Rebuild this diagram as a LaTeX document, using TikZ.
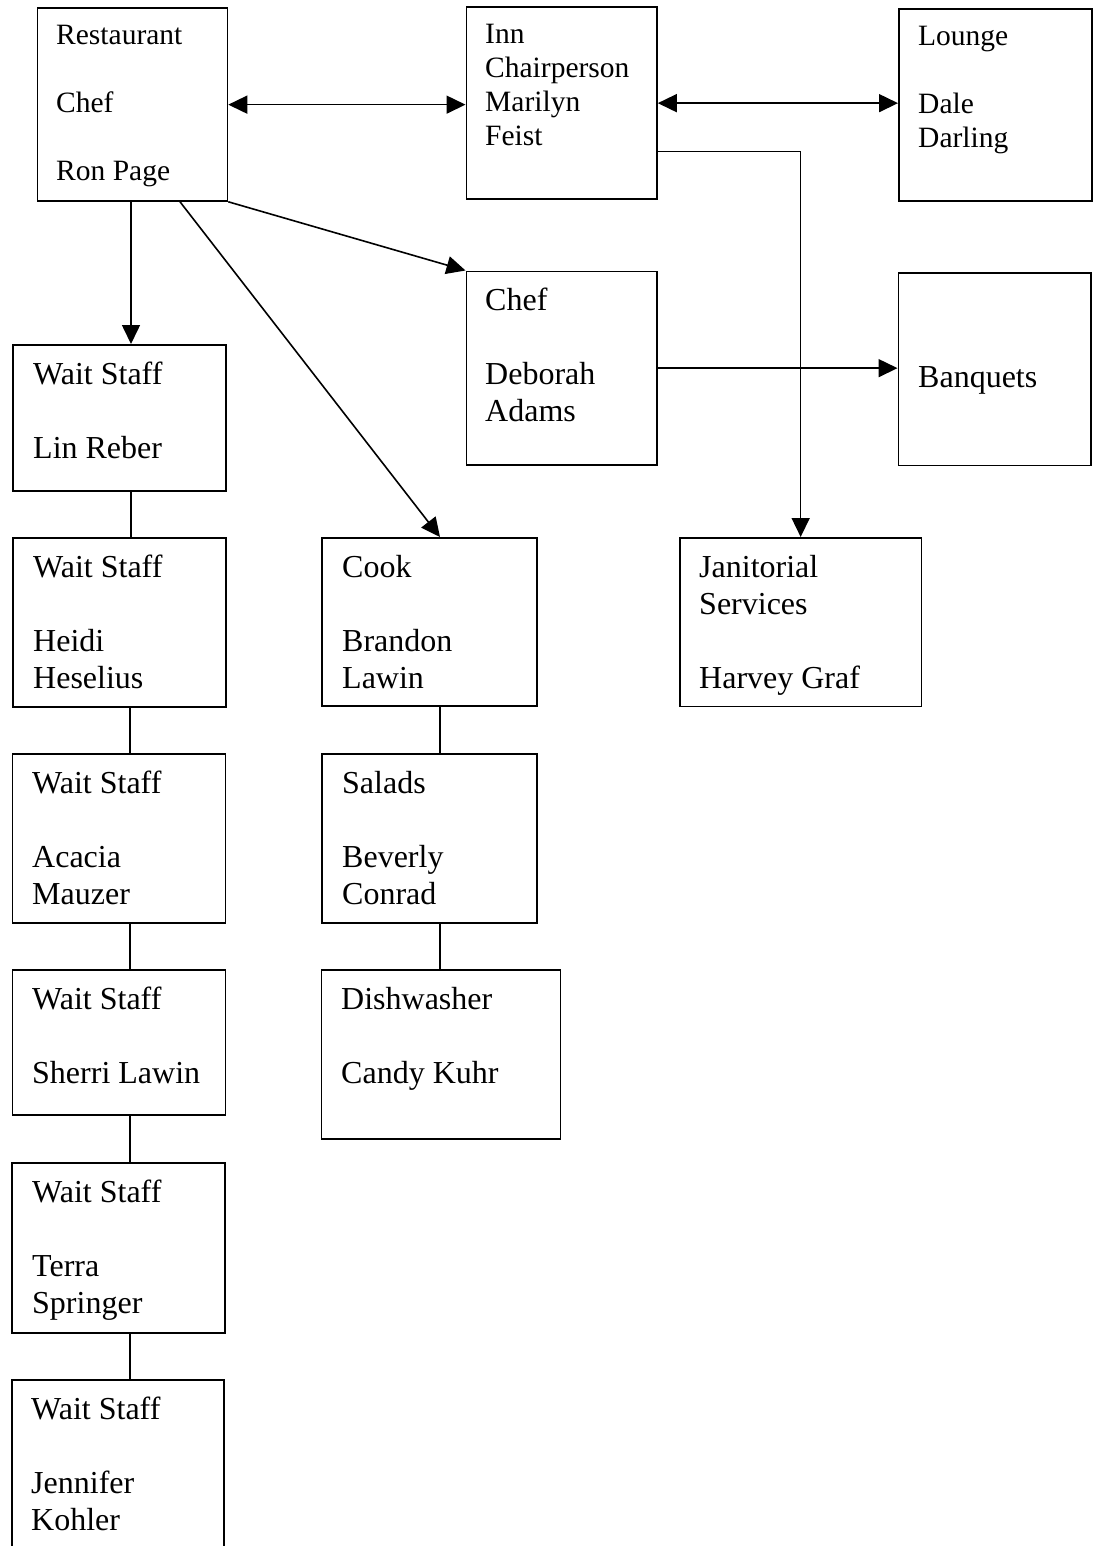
\documentclass[tikz,border=0pt]{standalone}
\usepackage{fontspec}
\setmainfont{Liberation Serif}
\usetikzlibrary{arrows.meta,calc}
\begin{document}
\begin{tikzpicture}[x=1pt,y=-1pt,
  orgbox/.style={draw, line width=1.8pt, rectangle, inner sep=0pt, anchor=north west},
  big/.style={anchor=base west, inner sep=0pt, font=\fontsize{32}{37}\selectfont},
  small/.style={anchor=base west, inner sep=0pt, font=\fontsize{29.5}{34}\selectfont},
  conn/.style={line width=1.6pt},
  arr/.style={conn, -{Triangle[length=19pt,width=18pt]}},
  darr/.style={conn, {Triangle[length=19pt,width=18pt]}-{Triangle[length=19pt,width=18pt]}}]
\clip (0,0) rectangle (1099,1546);
\fill[white] (0,0) rectangle (1099,1546);

% boxes
\node[orgbox, minimum width=190pt, minimum height=192.5pt] (rest) at (36.5,7.5) {};
\node[orgbox, minimum width=190.5pt, minimum height=191.5pt] (inn) at (465.5,6.5) {};
\node[orgbox, minimum width=193pt, minimum height=192pt] (lounge) at (898,8) {};
\node[orgbox, minimum width=190.5pt, minimum height=193.5pt] (chef) at (465.5,270.5) {};
\node[orgbox, minimum width=192.5pt, minimum height=192.5pt] (banq) at (897.5,272) {};
\node[orgbox, minimum width=213pt, minimum height=146pt] (lin) at (12,344) {};
\node[orgbox, minimum width=213pt, minimum height=169pt] (heidi) at (12,537) {};
\node[orgbox, minimum width=213pt, minimum height=169pt] (acacia) at (11.5,753) {};
\node[orgbox, minimum width=213pt, minimum height=145pt] (sherri) at (11.5,969) {};
\node[orgbox, minimum width=213pt, minimum height=170pt] (terra) at (11,1162) {};
\node[orgbox, minimum width=212pt, minimum height=200pt] (jen) at (11,1379) {};
\node[orgbox, minimum width=215pt, minimum height=168pt] (cook) at (321,537) {};
\node[orgbox, minimum width=215pt, minimum height=169pt] (salads) at (321,753) {};
\node[orgbox, minimum width=239pt, minimum height=169pt] (dish) at (320.5,969) {};
\node[orgbox, minimum width=241.5pt, minimum height=168.5pt] (jan) at (679,537) {};

% texts
\node[small] (t1) at (56,45) {Restaurant};
\node[small] (t2) at (56,113) {Chef};
\node[small] (t3) at (56,181) {Ron Page};
\node[small] (t4) at (485,44) {Inn};
\node[small] (t5) at (485,78) {Chairperson};
\node[small] (t6) at (485,112) {Marilyn};
\node[small] (t7) at (485,146) {Feist};
\node[small] (t8) at (918,46) {Lounge};
\node[small] (t9) at (918,114) {Dale};
\node[small] (t10) at (918,148) {Darling};
\node[big] (t11) at (485,310) {Chef};
\node[big] (t12) at (485,384) {Deborah};
\node[big] (t13) at (485,421) {Adams};
\node[big] (t14) at (918,387) {Banquets};
\node[big] (t15) at (33,384) {Wait Staff};
\node[big] (t16) at (33,458) {Lin Reber};
\node[big] (t17) at (33,577) {Wait Staff};
\node[big] (t18) at (33,651) {Heidi};
\node[big] (t19) at (33,688) {Heselius};
\node[big] (t20) at (32,793) {Wait Staff};
\node[big] (t21) at (32,867) {Acacia};
\node[big] (t22) at (32,904) {Mauzer};
\node[big] (t23) at (32,1009) {Wait Staff};
\node[big] (t24) at (32,1083) {Sherri Lawin};
\node[big] (t25) at (32,1202) {Wait Staff};
\node[big] (t26) at (32,1276) {Terra};
\node[big] (t27) at (32,1313) {Springer};
\node[big] (t28) at (31,1419) {Wait Staff};
\node[big] (t29) at (31,1493) {Jennifer};
\node[big] (t30) at (31,1530) {Kohler};
\node[big] (t31) at (342,577) {Cook};
\node[big] (t32) at (342,651) {Brandon};
\node[big] (t33) at (342,688) {Lawin};
\node[big] (t34) at (342,793) {Salads};
\node[big] (t35) at (342,867) {Beverly};
\node[big] (t36) at (342,904) {Conrad};
\node[big] (t37) at (341,1009) {Dishwasher};
\node[big] (t38) at (341,1083) {Candy Kuhr};
\node[big] (t39) at (699,577) {Janitorial};
\node[big] (t40) at (699,614) {Services};
\node[big] (t41) at (699,688) {Harvey Graf};

% connectors
\coordinate (cx1) at (131,0);
\coordinate (cx2) at (130,0);
\coordinate (cx3) at (440,0);
\draw[darr] (rest.east) -- (rest.east -| inn.west);
\draw[darr] (inn.east) -- (inn.east -| lounge.west);
\draw[arr] (cx1 |- rest.south) -- (cx1 |- lin.north);
\draw[arr] ($(rest.south west)+(143.5,0)$) -- ($(cook.north west)+(119,0)$);
\draw[arr] (rest.south east) -- (chef.north west);
\draw[arr] ($(inn.north east)!0.75!(inn.south east)$) -| (jan.north);
\draw[arr] (chef.east) -- (chef.east -| banq.west);
\draw[conn] (cx1 |- lin.south) -- (cx1 |- heidi.north);
\draw[conn] (cx2 |- heidi.south) -- (cx2 |- acacia.north);
\draw[conn] (cx2 |- acacia.south) -- (cx2 |- sherri.north);
\draw[conn] (cx2 |- sherri.south) -- (cx2 |- terra.north);
\draw[conn] (cx2 |- terra.south) -- (cx2 |- jen.north);
\draw[conn] (cx3 |- cook.south) -- (cx3 |- salads.north);
\draw[conn] (cx3 |- salads.south) -- (cx3 |- dish.north);
\end{tikzpicture}
\end{document}
